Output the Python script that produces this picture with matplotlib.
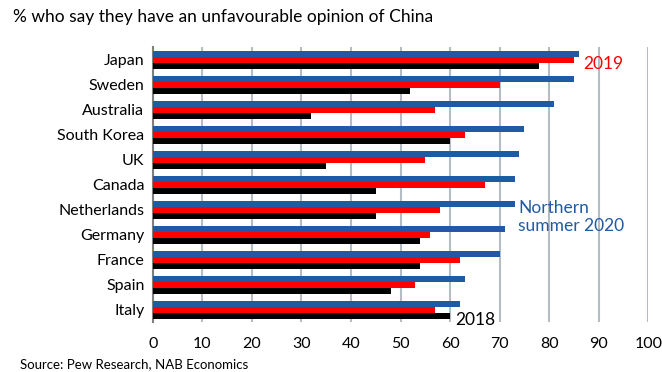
import numpy as np
import matplotlib.pyplot as plt

plt.rcParams['font.family'] = ['Lato', 'DejaVu Sans']

countries = ["Japan", "Sweden", "Australia", "South Korea", "UK", "Canada",
             "Netherlands", "Germany", "France", "Spain", "Italy"]
summer_2020 = [86, 85, 81, 75, 74, 73, 73, 71, 70, 63, 62]
y2019 = [85, 70, 57, 63, 55, 67, 58, 56, 62, 53, 57]
y2018 = [78, 52, 32, 60, 35, 45, 45, 54, 54, 48, 60]

blue = "#1f5ba5"
red = "#ff0000"

fig = plt.figure(figsize=(6.62, 3.72), dpi=100)
ax = fig.add_axes([0.2307, 0.134, 0.7487, 0.739])

pos = np.arange(len(countries))[::-1]
h = 0.24
ax.barh(pos + h, summer_2020, height=h, color=blue, zorder=3)
ax.barh(pos, y2019, height=h, color=red, zorder=3)
ax.barh(pos - h, y2018, height=h, color="black", zorder=3)

ax.set_xlim(0, 100)
ax.set_ylim(-0.5, len(countries) - 0.5)
ax.set_xticks(range(0, 101, 10))
ax.set_yticks(pos)
ax.set_yticklabels(countries)
ax.tick_params(axis='both', length=0, labelsize=11.5)
ax.tick_params(axis='x', pad=11)
ax.tick_params(axis='y', pad=6)
ax.grid(axis='x', color="#b4bcc4", linewidth=1.5, zorder=0)
for s in ["top", "right", "bottom"]:
    ax.spines[s].set_visible(False)
ax.spines["left"].set_color("#808080")
ax.spines["left"].set_linewidth(1.5)

ax.text(86.8, 9.82, "2019", color=red, fontsize=12.5, va='center')
ax.text(73.7, 3.7, "Northern\nsummer 2020", color=blue, fontsize=12.5,
        va='center', linespacing=1.2)
ax.text(61.1, -0.42, "2018", color="black", fontsize=12.5, va='center')

fig.text(0.02, 0.955, "% who say they have an unfavourable opinion of China",
         fontsize=12.5, va='center')
fig.text(0.03, 0.004, "Source: Pew Research, NAB Economics", fontsize=9.5,
         va='bottom')

plt.savefig("out.png", dpi=100)
